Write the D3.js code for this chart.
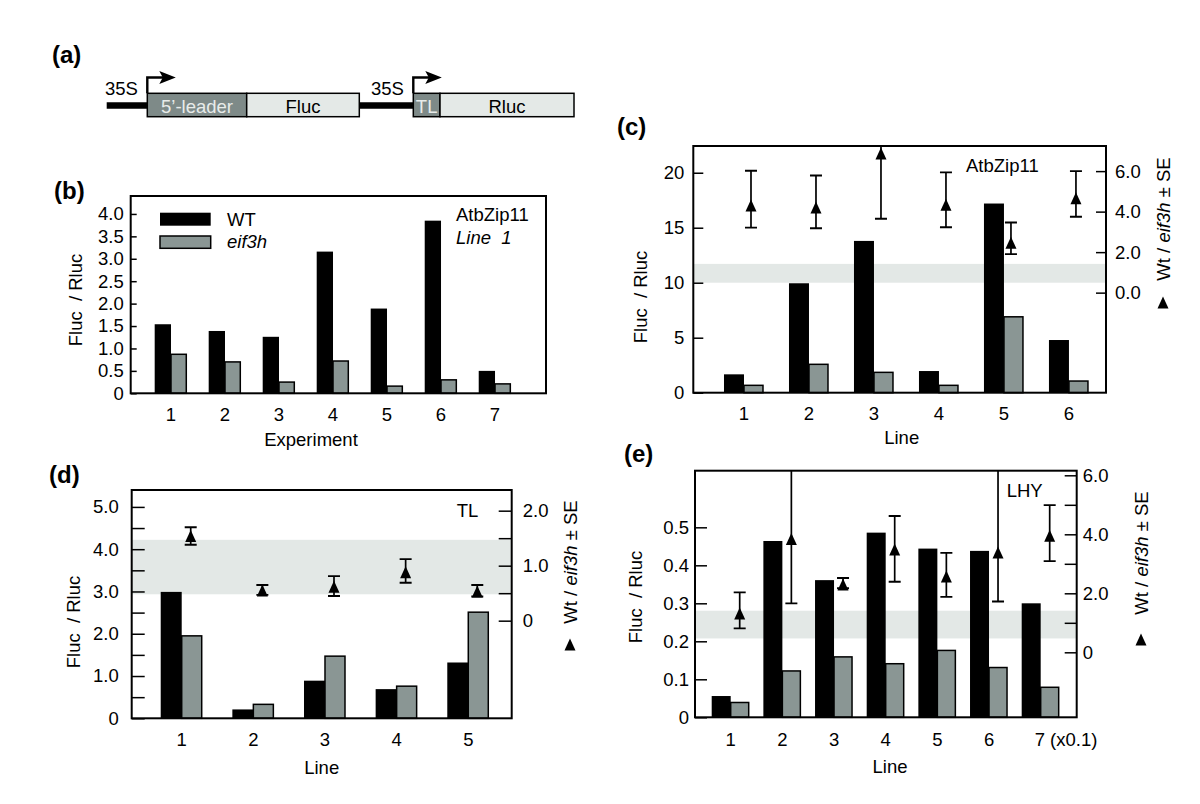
<!DOCTYPE html>
<html><head><meta charset="utf-8">
<script src="https://cdn.jsdelivr.net/npm/d3@7"></script>
<style>body{margin:0;background:#fff}svg{display:block}</style>
</head><body>
<div id="chart"></div>
<script>
// ---------- DATA ----------
const constructParts = ["5\u2019-leader", "Fluc", "TL", "Rluc"];
const promoterLabel = "35S";

const bExperiments = ["1","2","3","4","5","6","7"];
const bWT   = [1.54, 1.39, 1.26, 3.16, 1.89, 3.85, 0.50];
const bEif  = [0.87, 0.70, 0.25, 0.72, 0.16, 0.30, 0.21];
const bTicks = [0,0.5,1,1.5,2,2.5,3,3.5,4];

const cLines = ["1","2","3","4","5","6"];
const cWT    = [1.67, 9.95, 13.8, 1.97, 17.2, 4.79];
const cEif   = [0.67, 2.58, 1.85, 0.67, 6.9, 1.06];
const cRatio = [4.28, 4.18, 6.85, 4.31, 2.44, 4.64];
const cLo    = [3.21, 3.18, 3.65, 3.23, 1.90, 3.75];
const cHi    = [6.02, 5.78, 9.00, 5.94, 3.46, 6.00];
const cBand  = [0.49, 1.42];
const cLeftTicks = [0,5,10,15,20];
const cRightTicks = [0,2,4,6];

const dLines = ["1","2","3","4","5"];
const dWT    = [2.99, 0.21, 0.89, 0.69, 1.32];
const dEif   = [1.95, 0.33, 1.47, 0.76, 2.51];
const dRatio = [1.53, 0.54, 0.61, 0.87, 0.52];
const dLo    = [1.38, 0.47, 0.45, 0.69, 0.44];
const dHi    = [1.70, 0.65, 0.81, 1.12, 0.65];
const dBand  = [0.48, 1.47];
const dLeftTicks = [0,0.5,1,1.5,2,2.5,3,3.5,4,4.5,5];
const dRightTicks = [0,0.5,1,1.5,2];

const eLines = ["1","2","3","4","5","6","7 (x0.1)"];
const eWT    = [0.056, 0.464, 0.361, 0.486, 0.444, 0.438, 0.300];
const eEif   = [0.039, 0.122, 0.159, 0.141, 0.176, 0.131, 0.079];
const eRatio = [1.30, 3.82, 2.28, 3.47, 2.55, 3.37, 3.93];
const eLo    = [0.81, 1.66, 2.17, 2.39, 1.88, 1.72, 3.09];
const eHi    = [2.03, 8.00, 2.52, 4.62, 3.37, 8.00, 4.99];
const eBand  = [0.47, 1.41];
const eLeftTicks = [0,0.1,0.2,0.3,0.4,0.5];
const eRightTicks = [0,1,2,3,4,5,6];

// ---------- STYLE ----------
const FONT = "'Liberation Sans', Arial, Helvetica, sans-serif";
const GREY = "#8a9694";
const BAND = "#e3e8e6";
const DARKBOX = "#7e8a88";
const LIGHTBOX = "#e4e9e7";
const FS = 18.5;

const svg = d3.select("#chart").append("svg")
  .attr("width", 1200).attr("height", 804)
  .attr("font-family", FONT);

function fmt1(v){ return v === 0 ? "0" : d3.format(".1f")(v); }

function panelLabel(t, x, y){
  svg.append("text").attr("x", x).attr("y", y).text(t)
    .attr("font-size", 24).attr("font-weight", "bold").attr("fill", "#000");
}

function triPath(cx, cy){
  return `M${cx},${cy - 6.5} L${cx + 5.5},${cy + 5.5} L${cx - 5.5},${cy + 5.5} Z`;
}

function rightTitle(x, cy, triY){
  const t = svg.append("text")
    .attr("transform", `translate(${x},${cy}) rotate(-90)`)
    .attr("text-anchor", "middle").attr("dominant-baseline", "central")
    .attr("font-size", FS);
  t.append("tspan").text("Wt / ");
  t.append("tspan").attr("font-style", "italic").text("eif3h");
  t.append("tspan").text(" \u00b1 SE");
  svg.append("path").attr("d", triPath(x, triY)).attr("fill", "#000");
}

function leftTitle(x, cy){
  svg.append("text")
    .attr("transform", `translate(${x},${cy}) rotate(-90)`)
    .attr("text-anchor", "middle").attr("dominant-baseline", "central")
    .attr("font-size", FS).attr("xml:space", "preserve").text("Fluc  / Rluc");
}

function panel(o){
  const n = o.cats.length;
  const x = d3.scaleLinear().domain(o.xDom).range([o.L, o.R]);
  const y = d3.scaleLinear().domain(o.yDom).range([o.B, o.T]);
  const y2 = o.y2Dom ? d3.scaleLinear().domain(o.y2Dom).range([o.B, o.T]) : null;
  const g = svg.append("g");
  const cid = "clip-" + o.name;
  svg.append("clipPath").attr("id", cid).append("rect")
    .attr("x", o.L).attr("y", o.T).attr("width", o.R - o.L).attr("height", o.B - o.T);

  if (o.band) {
    g.append("rect").attr("x", o.L).attr("width", o.R - o.L)
      .attr("y", y2(o.band[1])).attr("height", y2(o.band[0]) - y2(o.band[1]))
      .attr("fill", BAND);
  }
  const idx = d3.range(n);
  g.append("g").selectAll("rect").data(idx).join("rect")
    .attr("x", i => x(i + 1) - o.bw).attr("width", o.bw)
    .attr("y", i => y(o.wt[i])).attr("height", i => y(0) - y(o.wt[i]))
    .attr("fill", "#000");
  g.append("g").selectAll("rect").data(idx).join("rect")
    .attr("x", i => x(i + 1)).attr("width", o.bw - 1)
    .attr("y", i => y(o.eif[i])).attr("height", i => y(0) - y(o.eif[i]))
    .attr("fill", GREY).attr("stroke", "#000").attr("stroke-width", 1.5);

  if (o.ratio) {
    const eg = g.append("g").attr("clip-path", `url(#${cid})`);
    idx.forEach(i => {
      const cx = x(i + 1) + o.toff;
      eg.append("line").attr("x1", cx).attr("x2", cx)
        .attr("y1", y2(o.lo[i])).attr("y2", y2(o.hi[i]))
        .attr("stroke", "#000").attr("stroke-width", 1.7);
      [o.lo[i], o.hi[i]].forEach(v => {
        eg.append("line").attr("x1", cx - 6).attr("x2", cx + 6)
          .attr("y1", y2(v)).attr("y2", y2(v))
          .attr("stroke", "#000").attr("stroke-width", 1.9);
      });
      eg.append("path").attr("d", triPath(cx, y2(o.ratio[i]))).attr("fill", "#000");
    });
  }

  const la = svg.append("g").attr("transform", `translate(${o.L},0)`)
    .call(d3.axisLeft(y).tickValues(o.lTicks).tickSize(-o.tick).tickPadding(o.lpad)
      .tickFormat(o.lFmt));
  la.select(".domain").remove();
  la.selectAll("line").attr("stroke", "#000").attr("stroke-width", 1.5);
  la.selectAll("text").attr("font-size", FS).attr("font-family", FONT).attr("fill", "#000");

  if (y2) {
    const ra = svg.append("g").attr("transform", `translate(${o.R},0)`)
      .call(d3.axisRight(y2).tickValues(o.rTicks).tickSize(-o.tick).tickPadding(o.rpad)
        .tickFormat(o.rFmt));
    ra.select(".domain").remove();
    ra.selectAll("line").attr("stroke", "#000").attr("stroke-width", 1.5);
    ra.selectAll("text").attr("font-size", FS).attr("font-family", FONT).attr("fill", "#000");
  }

  svg.append("rect").attr("x", o.L).attr("y", o.T)
    .attr("width", o.R - o.L).attr("height", o.B - o.T)
    .attr("fill", "none").attr("stroke", "#000").attr("stroke-width", 2);

  svg.append("g").selectAll("text").data(idx).join("text")
    .attr("x", i => (o.lastStart && i === n - 1) ? x(i + 1) - 6 : x(i + 1))
    .attr("y", o.B + o.xlabOff)
    .attr("text-anchor", i => (o.lastStart && i === n - 1) ? "start" : "middle")
    .attr("font-size", FS).text(i => o.cats[i]);
  svg.append("text").attr("x", (o.xTitleX != null) ? o.xTitleX : (o.L + o.R) / 2)
    .attr("y", o.B + o.xTitleOff).attr("text-anchor", "middle")
    .attr("font-size", FS).text(o.xTitle);
  return {x, y, y2};
}

// ---------- PANEL (a) ----------
panelLabel("(a)", 52, 63);
(function(){
  const yMid = 105.5, yTop = 93.3, yBot = 116.7;
  const g = svg.append("g");
  g.append("line").attr("x1", 106.7).attr("x2", 148).attr("y1", yMid).attr("y2", yMid)
    .attr("stroke", "#000").attr("stroke-width", 6.5);
  g.append("line").attr("x1", 358).attr("x2", 414).attr("y1", yMid).attr("y2", yMid)
    .attr("stroke", "#000").attr("stroke-width", 6.5);
  const boxes = [
    {t: constructParts[0], x0: 147.3, x1: 246.7, dark: true},
    {t: constructParts[1], x0: 246.7, x1: 359.3, dark: false},
    {t: constructParts[2], x0: 413.3, x1: 440, dark: true},
    {t: constructParts[3], x0: 440, x1: 574, dark: false}
  ];
  boxes.forEach(b => {
    g.append("rect").attr("x", b.x0).attr("y", yTop).attr("width", b.x1 - b.x0)
      .attr("height", yBot - yTop).attr("fill", b.dark ? DARKBOX : LIGHTBOX)
      .attr("stroke", "#000").attr("stroke-width", 1.5);
    g.append("text").attr("x", (b.x0 + b.x1) / 2).attr("y", 112.5)
      .attr("text-anchor", "middle").attr("font-size", FS)
      .attr("fill", b.dark ? "#e8ecea" : "#000").text(b.t);
  });
  [147.3, 413.3].forEach(ax => {
    g.append("path").attr("d", `M${ax},${yTop} V77.5 H${ax + 16}`)
      .attr("fill", "none").attr("stroke", "#000").attr("stroke-width", 2.4);
    g.append("path").attr("d", `M${ax + 12},71 L${ax + 28.5},77.5 L${ax + 12},84 L${ax + 15.5},77.5 Z`)
      .attr("fill", "#000");
  });
  g.append("text").attr("x", 105).attr("y", 95).attr("font-size", FS).text(promoterLabel);
  g.append("text").attr("x", 371).attr("y", 95).attr("font-size", FS).text(promoterLabel);
})();

// ---------- PANEL (b) ----------
panelLabel("(b)", 54, 199);
panel({
  name: "b", cats: bExperiments, wt: bWT, eif: bEif,
  L: 130.7, R: 546, T: 196, B: 393.3,
  xDom: [0.254, 7.944], yDom: [0, 4.40],
  bw: 16.3, tick: 6, lpad: 7, lTicks: bTicks, lFmt: fmt1,
  xlabOff: 28, xTitle: "Experiment", xTitleOff: 53, xTitleX: 311
});
leftTitle(75, 300);
svg.append("rect").attr("x", 160).attr("y", 212.7).attr("width", 50.7).attr("height", 13).attr("fill", "#000");
svg.append("rect").attr("x", 160).attr("y", 236).attr("width", 50.7).attr("height", 12.3)
  .attr("fill", GREY).attr("stroke", "#000").attr("stroke-width", 1.5);
svg.append("text").attr("x", 227).attr("y", 226).attr("font-size", FS).text("WT");
svg.append("text").attr("x", 227).attr("y", 248).attr("font-size", FS).attr("font-style", "italic").text("eif3h");
svg.append("text").attr("x", 456).attr("y", 221).attr("font-size", FS).text("AtbZip11");
svg.append("text").attr("x", 456).attr("y", 244).attr("font-size", FS).attr("font-style", "italic")
  .attr("xml:space", "preserve").text("Line  1");

// ---------- PANEL (c) ----------
panelLabel("(c)", 617, 135);
panel({
  name: "c", cats: cLines, wt: cWT, eif: cEif,
  ratio: cRatio, lo: cLo, hi: cHi, band: cBand,
  L: 693.3, R: 1106, T: 146, B: 392.7,
  xDom: [0.22, 6.57], yDom: [0, 22.43], y2Dom: [-4.94, 7.24],
  bw: 20, toff: 7, tick: 10, lpad: 9, rpad: 9,
  lTicks: cLeftTicks, lFmt: d => String(d), rTicks: cRightTicks, rFmt: d => d3.format(".1f")(d),
  xlabOff: 27, xTitle: "Line", xTitleOff: 51, xTitleX: 901.7
});
leftTitle(640, 297);
rightTitle(1163, 219, 303);
svg.append("text").attr("x", 966).attr("y", 172).attr("font-size", FS).text("AtbZip11");

// ---------- PANEL (d) ----------
panelLabel("(d)", 49, 483);
panel({
  name: "d", cats: dLines, wt: dWT, eif: dEif,
  ratio: dRatio, lo: dLo, hi: dHi, band: dBand,
  L: 131.7, R: 511.7, T: 490, B: 718.3,
  xDom: [0.302, 5.606], yDom: [0, 5.40], y2Dom: [-1.775, 2.376],
  bw: 21, toff: 9, tick: 13, lpad: 13, rpad: 11,
  lTicks: dLeftTicks, lFmt: d => Number.isInteger(d) ? fmt1(d) : "",
  rTicks: dRightTicks, rFmt: d => Number.isInteger(d) ? fmt1(d) : "",
  xlabOff: 28, xTitle: "Line", xTitleOff: 56
});
leftTitle(73, 622);
rightTitle(570, 562, 645);
svg.append("text").attr("x", 456.7).attr("y", 516.7).attr("font-size", FS).text("TL");

// ---------- PANEL (e) ----------
panelLabel("(e)", 624, 462);
panel({
  name: "e", cats: eLines, wt: eWT, eif: eEif,
  ratio: eRatio, lo: eLo, hi: eHi, band: eBand,
  L: 695, R: 1076.7, T: 470.7, B: 717.3,
  xDom: [0.309, 7.697], yDom: [0, 0.649], y2Dom: [-2.203, 6.156],
  bw: 19, toff: 9, tick: 12, lpad: 6, rpad: 6, lastStart: true,
  lTicks: eLeftTicks, lFmt: fmt1,
  rTicks: eRightTicks, rFmt: d => d % 2 === 0 ? fmt1(d) : "",
  xlabOff: 29, xTitle: "Line", xTitleOff: 56, xTitleX: 890
});
leftTitle(635, 597);
rightTitle(1141, 553, 640);
svg.append("text").attr("x", 1006.7).attr("y", 497.3).attr("font-size", FS).text("LHY");
</script>
</body></html>
